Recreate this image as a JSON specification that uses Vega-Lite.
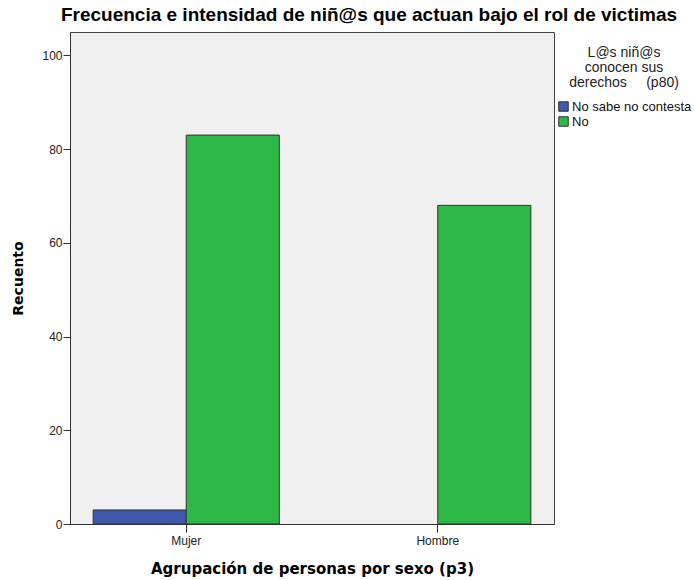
{
  "$schema": "https://vega.github.io/schema/vega-lite/v6.json",
  "autosize": {"type": "none"},
  "padding": {"left": 70, "top": 32, "right": 140, "bottom": 56},
  "width": 484,
  "height": 492,
  "background": "white",
  "config": {
    "font": "Liberation Sans",
    "view": {"fill": "#f0f0f0", "stroke": "#444444", "strokeWidth": 1}
  },
  "title": {
    "text": "Frecuencia e intensidad de niñ@s que actuan bajo el rol de victimas",
    "fontSize": 19,
    "fontWeight": "bold",
    "color": "#000000",
    "anchor": "middle",
    "dx": 57,
    "offset": 7
  },
  "data": {
    "values": [
      {"sexo": "Mujer", "respuesta": "No sabe no contesta", "recuento": 3},
      {"sexo": "Mujer", "respuesta": "No", "recuento": 83},
      {"sexo": "Hombre", "respuesta": "No", "recuento": 68}
    ]
  },
  "mark": {"type": "bar", "stroke": "#333333", "strokeWidth": 1},
  "encoding": {
    "x": {
      "field": "sexo",
      "type": "nominal",
      "sort": ["Mujer", "Hombre"],
      "scale": {"paddingInner": 0.26, "paddingOuter": 0.092},
      "axis": {
        "title": "Agrupación de personas por sexo (p3)",
        "titleFont": "DejaVu Sans",
        "titleFontSize": 15,
        "titleFontWeight": "bold",
        "titleColor": "#000000",
        "titlePadding": 15,
        "labelAngle": 0,
        "labelFontSize": 12,
        "labelColor": "#222222",
        "labelPadding": 3,
        "tickSize": 8,
        "tickColor": "#333333",
        "domainColor": "#333333"
      }
    },
    "xOffset": {
      "field": "respuesta",
      "type": "nominal",
      "sort": ["No sabe no contesta", "No"],
      "scale": {"domain": ["No sabe no contesta", "No"], "paddingInner": 0, "paddingOuter": 0}
    },
    "y": {
      "field": "recuento",
      "type": "quantitative",
      "scale": {"domain": [0, 105], "nice": false},
      "axis": {
        "title": "Recuento",
        "titleFont": "DejaVu Sans",
        "titleFontSize": 14,
        "titleFontWeight": "bold",
        "titleColor": "#000000",
        "titleX": -52,
        "titleY": 246,
        "titleAlign": "center",
        "titleBaseline": "middle",
        "values": [0, 20, 40, 60, 80, 100],
        "grid": false,
        "labelFontSize": 12,
        "labelColor": "#222222",
        "labelPadding": 1,
        "tickSize": 7,
        "tickColor": "#333333",
        "domainColor": "#333333"
      }
    },
    "color": {
      "field": "respuesta",
      "type": "nominal",
      "scale": {"domain": ["No sabe no contesta", "No"], "range": ["#3e58ac", "#2eb848"]},
      "legend": {
        "title": ["L@s niñ@s", "conocen sus", "derechos\u00a0\u00a0\u00a0\u00a0\u00a0(p80)"],
        "orient": "none",
        "legendX": 487,
        "legendY": 14,
        "titleFontSize": 14,
        "titleFontWeight": "normal",
        "titleColor": "#222222",
        "titleAnchor": "middle",
        "titleAlign": "center",
        "titleLineHeight": 15,
        "titlePadding": 10,
        "symbolType": "square",
        "symbolSize": 90,
        "symbolStrokeColor": "#333333",
        "symbolStrokeWidth": 1,
        "symbolOpacity": 1,
        "labelFontSize": 13,
        "labelColor": "#111111",
        "labelOffset": 2,
        "rowPadding": 0
      }
    }
  }
}
